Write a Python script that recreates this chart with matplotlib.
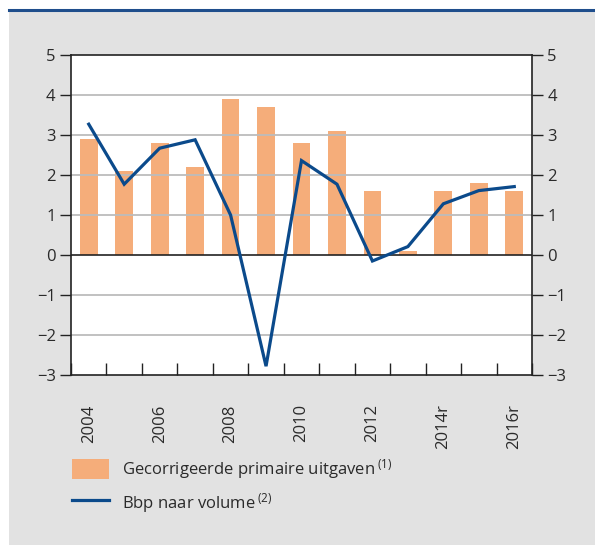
#!/usr/bin/env python3
"""Gecorrigeerde primaire uitgaven vs bbp naar volume, 2004-2016."""

import matplotlib

matplotlib.use("Agg")
import matplotlib.pyplot as plt
from matplotlib.lines import Line2D
from matplotlib.patches import Patch, Rectangle

years = ["2004", "2005", "2006", "2007", "2008", "2009", "2010",
         "2011", "2012", "2013", "2014r", "2015r", "2016r"]
uitgaven = [2.9, 2.1, 2.8, 2.2, 3.9, 3.7, 2.8, 3.1, 1.6, 0.1, 1.6, 1.8, 1.6]
bbp = [3.27, 1.77, 2.67, 2.88, 1.0, -2.78, 2.36, 1.77, -0.15, 0.21, 1.28, 1.61, 1.71]
y_ticks = [-3, -2, -1, 0, 1, 2, 3, 4, 5]

plt.rcParams["font.family"] = ["Open Sans", "DejaVu Sans"]
plt.rcParams["mathtext.fontset"] = "custom"
plt.rcParams["mathtext.rm"] = "Open Sans"
plt.rcParams["mathtext.it"] = "Open Sans"

TEXT = "#2a2a2a"
ORANGE = "#f5ad7a"
BLUE = "#0b4a8b"
BG = "#e2e2e2"

fig = plt.figure(figsize=(5.95, 5.45), dpi=100, facecolor="white")
fig.patches.append(Rectangle((9 / 595, 0), 1, 1 - 11 / 545, transform=fig.transFigure,
                             facecolor=BG, edgecolor="none", zorder=-10))
fig.lines.append(Line2D([9 / 595, 1], [1 - 9.5 / 545, 1 - 9.5 / 545], transform=fig.transFigure,
                        color="#1f4e8c", linewidth=2.2, zorder=-9))

ax = fig.add_axes([71 / 595, 1 - 375 / 545, (532 - 71) / 595, (375 - 55) / 545])
ax.set_facecolor("white")

x = list(range(len(years)))
ax.bar(x, uitgaven, width=0.5, color=ORANGE, zorder=1)
ax.plot(x, bbp, color=BLUE, linewidth=2.3, zorder=4, solid_joinstyle="miter")

for v in y_ticks:
    if v in (-3, 0, 5):
        continue
    ax.axhline(v, color="#bcbcbc", linewidth=1.3, zorder=2)
ax.axhline(0, color="#222222", linewidth=1.2, zorder=3)

ax.set_xlim(-0.5, len(years) - 0.5)
ax.set_ylim(-3, 5)
ax.set_yticks(y_ticks)
ax.set_yticklabels([str(v).replace("-", "\u2212") for v in y_ticks])
ax.tick_params(axis="y", direction="out", length=8, width=1, color="#222222",
               left=True, right=True, labelleft=True, labelright=True,
               labelsize=12, labelcolor=TEXT, pad=3)

ax.set_xticks(x[::2])
ax.set_xticklabels(years[::2], rotation=90, va="top")
ax.set_xticks([i - 0.5 for i in range(len(years) + 1)], minor=True)
ax.tick_params(axis="x", which="major", length=0, pad=21, labelsize=12, labelcolor=TEXT)
ax.tick_params(axis="x", which="minor", direction="in", length=9, width=1, color="#222222")

for s in ax.spines.values():
    s.set_color("#222222")
    s.set_linewidth(1.2)

handles = [Patch(facecolor=ORANGE, edgecolor="none"),
           Line2D([], [], color=BLUE, linewidth=2.3)]
labels = [r"Gecorrigeerde primaire uitgaven$\,^{(1)}$", r"Bbp naar volume$\,^{(2)}$"]
leg = fig.legend(handles, labels, loc="upper left",
                 bbox_to_anchor=(72 / 595, 1 - 457 / 545), frameon=False,
                 borderpad=0, borderaxespad=0, fontsize=12,
                 handlelength=2.2, handleheight=1.5, handletextpad=0.8,
                 labelspacing=0.6, labelcolor=TEXT)

fig.savefig("out.png", dpi=100, facecolor="white")
